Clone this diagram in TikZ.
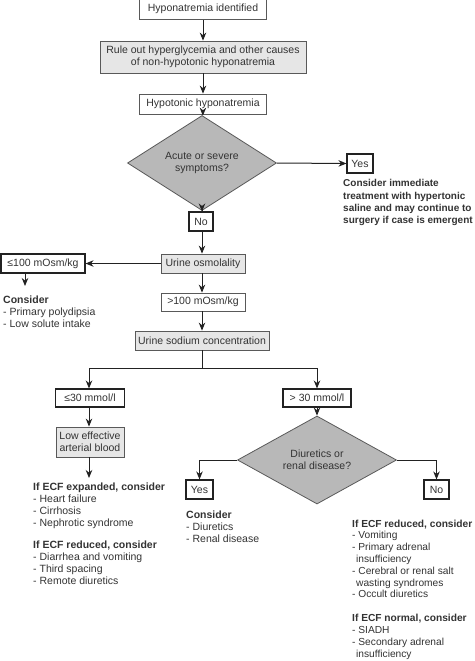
\documentclass[tikz,border=0pt]{standalone}
\usepackage{fontspec}
\setmainfont{Liberation Sans}
\usetikzlibrary{shapes.geometric,arrows.meta}
\definecolor{gfill}{HTML}{E6E6E6}
\definecolor{dfill}{HTML}{B8B8B8}
\definecolor{lncol}{HTML}{222222}
\definecolor{txcol}{HTML}{333333}
\begin{document}
\begin{tikzpicture}[x=1pt,y=-1pt,
  every node/.style={font=\fontsize{10.5}{12}\selectfont, text=txcol},
  base/.style={rectangle, inner sep=0pt, align=center},
  gbox/.style={base, fill=gfill, draw=black!65, line width=0.8pt},
  wbox/.style={base, fill=white, draw=black!65, line width=0.8pt},
  kbox/.style={base, fill=white, draw=lncol, line width=1.1pt},
  dia/.style={diamond, inner sep=0pt, fill=dfill, draw=black!65, line width=0.8pt, align=center},
  txt/.style={anchor=north west, inner sep=0pt, align=left},
  arr/.style={-{Stealth[length=8pt,width=6.5pt]}, draw=lncol, line width=1pt},
  ln/.style={draw=lncol, line width=1pt}]
\useasboundingbox (0,0) rectangle (474,661);
\fill[white] (0,0) rectangle (474,661);

\node[wbox, minimum width=127pt, minimum height=22pt] (b1) at (203,8.5) {Hyponatremia identified};
\node[gbox, minimum width=206pt, minimum height=32pt] (b2) at (203,57) {Rule out hyperglycemia and other causes\\of non-hypotonic hyponatremia};
\node[wbox, minimum width=127pt, minimum height=20pt] (b3) at (203,104) {Hypotonic hyponatremia};
\node[dia, minimum width=149pt, minimum height=60pt] (d1) at (202,163) {Acute or severe\\symptoms?};
\node[kbox, minimum width=26pt, minimum height=19pt] (yes1) at (360,163.5) {Yes};
\node[txt, font=\bfseries\fontsize{10}{12.3}\selectfont] (t1) at (343,179.5) {Consider immediate\\treatment with hypertonic\\saline and may continue to\\surgery if case is emergent};
\node[kbox, minimum width=24pt, minimum height=19pt] (no1) at (201,221.5) {No};
\node[gbox, minimum width=84pt, minimum height=19pt] (uo) at (203,263.5) {Urine osmolality};
\node[kbox, minimum width=84pt, minimum height=19pt] (lo) at (43,263.5) {≤100 mOsm/kg};
\coordinate (loarr) at (25,286);
\node[txt] (t2) at (3,295.5) {\textbf{Consider}\\- Primary polydipsia\\- Low solute intake};
\node[wbox, minimum width=84pt, minimum height=18pt] (hi) at (203,302) {>100 mOsm/kg};
\node[gbox, minimum width=134pt, minimum height=19pt] (una) at (202,340.5) {Urine sodium concentration};
\coordinate (br) at (202,368);
\coordinate (brl) at (89,368);
\coordinate (brr) at (317,368);
\node[kbox, minimum width=69pt, minimum height=18pt] (le30) at (90,398) {≤30 mmol/l};
\node[kbox, minimum width=68pt, minimum height=18pt] (gt30) at (317,398) {> 30 mmol/l};
\node[gbox, minimum width=68pt, minimum height=30pt] (low) at (90,442) {Low effective\\arterial blood};
\coordinate (lowarr) at (89,478);
\node[dia, minimum width=159pt, minimum height=64pt] (d2) at (317,460) {Diuretics or\\renal disease?};
\node[kbox, minimum width=27pt, minimum height=19pt] (yes2) at (199.5,489.5) {Yes};
\node[kbox, minimum width=25pt, minimum height=19pt] (no2) at (436.5,489.5) {No};

\node[txt] (t3) at (33,482.5) {\textbf{If ECF expanded, consider}\\- Heart failure\\- Cirrhosis\\- Nephrotic syndrome\\[10pt]\textbf{If ECF reduced, consider}\\- Diarrhea and vomiting\\- Third spacing\\- Remote diuretics};
\node[txt] (t4) at (186,510.5) {\textbf{Consider}\\- Diuretics\\- Renal disease};
\node[txt, font=\fontsize{10.2}{11.8}\selectfont] (t5) at (352,519.5) {\textbf{If ECF reduced, consider}\\- Vomiting\\- Primary adrenal\\\hspace*{4pt}insufficiency\\- Cerebral or renal salt\\\hspace*{4pt}wasting syndromes\\- Occult diuretics\\[12pt]\textbf{If ECF normal, consider}\\- SIADH\\- Secondary adrenal\\\hspace*{4pt}insufficiency};

\draw[arr] (b1) -- (b2);
\draw[arr] (b2) -- (b3);
\draw[arr] (b3) -- (d1);
\draw[arr] (d1.east) -- (yes1.west);
\draw[arr] (d1.south) -- (no1.north -| d1.south);
\draw[arr] (no1.south -| d1.south) -- (uo.north -| d1.south);
\draw[arr] (uo.west) -- (lo.east);
\draw[arr] (lo.south -| loarr) -- (loarr);
\draw[arr] (uo.south -| d1.south) -- (hi.north -| d1.south);
\draw[arr] (hi.south -| una.south) -- (una.north);
\draw[ln] (una.south) -- (br);
\draw[ln] (brl) -- (brr);
\draw[arr] (brl) -- (le30.north -| brl);
\draw[arr] (brr) -- (gt30.north);
\draw[arr] (le30.south -| brl) -- (low.north -| brl);
\draw[arr] (low.south -| lowarr) -- (lowarr);
\draw[arr] (gt30.south) -- (d2.north);
\draw[arr] (d2.west) -| (yes2.north);
\draw[arr] (d2.east) -| (no2.north);
\end{tikzpicture}
\end{document}
